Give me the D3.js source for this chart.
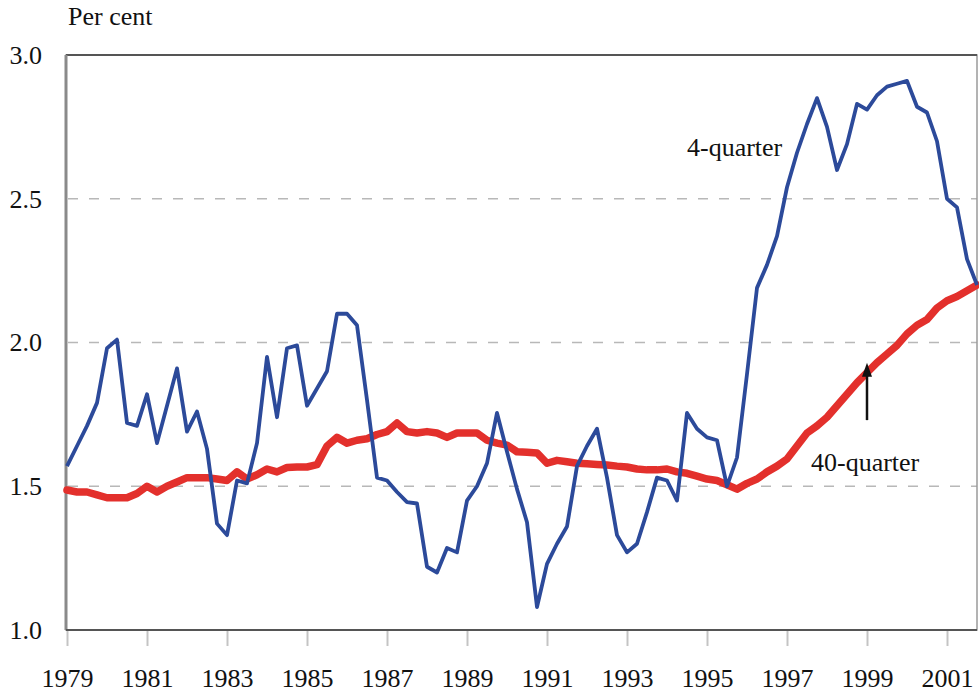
<!DOCTYPE html>
<html>
<head>
<meta charset="utf-8">
<script src="https://cdn.jsdelivr.net/npm/d3@7"></script>
</head>
<body style="margin:0">
<svg id="chart" width="979" height="696"></svg>
<script>
// Quarterly series, 1979 Q1 to 2001 Q4
const startYear = 1979;
const fourQuarter = [
  1.57, 1.64, 1.71, 1.79,
  1.98, 2.01, 1.72, 1.71,
  1.82, 1.65, 1.78, 1.91,
  1.69, 1.76, 1.63, 1.37,
  1.33, 1.52, 1.51, 1.65,
  1.95, 1.74, 1.98, 1.99,
  1.78, 1.84, 1.90, 2.10,
  2.10, 2.06, 1.80, 1.53,
  1.52, 1.48, 1.445, 1.44,
  1.22, 1.20, 1.285, 1.27,
  1.45, 1.50, 1.58, 1.755,
  1.62, 1.49, 1.375, 1.08,
  1.23, 1.30, 1.36, 1.57,
  1.64, 1.70, 1.53, 1.33,
  1.27, 1.30, 1.41, 1.53,
  1.52, 1.45, 1.755, 1.70,
  1.67, 1.66, 1.50, 1.60,
  1.89, 2.19, 2.27, 2.37,
  2.54, 2.66, 2.76, 2.85,
  2.75, 2.60, 2.69, 2.83,
  2.81, 2.86, 2.89, 2.90,
  2.91, 2.82, 2.80, 2.70,
  2.50, 2.47, 2.29, 2.20
];
const fortyQuarter = [
  1.487, 1.48, 1.48, 1.47,
  1.46, 1.46, 1.46, 1.475,
  1.50, 1.48, 1.50, 1.515,
  1.53, 1.53, 1.53, 1.525,
  1.52, 1.55, 1.525, 1.54,
  1.56, 1.55, 1.565, 1.567,
  1.567, 1.575, 1.64, 1.67,
  1.65, 1.66, 1.665, 1.68,
  1.69, 1.72, 1.69, 1.685,
  1.69, 1.685, 1.67, 1.685,
  1.685, 1.685, 1.66, 1.65,
  1.643, 1.62, 1.618, 1.616,
  1.58, 1.59, 1.585, 1.58,
  1.578, 1.576, 1.574, 1.57,
  1.567, 1.56, 1.557, 1.557,
  1.56, 1.55, 1.545, 1.535,
  1.525, 1.52, 1.505, 1.49,
  1.51, 1.525, 1.55, 1.57,
  1.595, 1.64, 1.685, 1.71,
  1.74, 1.78, 1.82, 1.86,
  1.895, 1.93, 1.96, 1.99,
  2.03, 2.06, 2.08, 2.12,
  2.145, 2.16, 2.18, 2.20
];
const xTickYears = [1979, 1981, 1983, 1985, 1987, 1989, 1991, 1993, 1995, 1997, 1999, 2001];
const yTicks = [1.0, 1.5, 2.0, 2.5, 3.0];
const gridValues = [1.5, 2.0, 2.5];
const yUnit = "Per cent";
const label4 = "4-quarter";
const label40 = "40-quarter";
const arrowFromTo = [1.93, 1.73]; // arrow pointing at the 40-quarter line, at 1999
const arrowYear = 1999;

const FONT = "'Liberation Serif'";
const FS = 26;
const svg = d3.select("#chart");
const mLeft = 66, mRight = 977, mTop = 55, mBottom = 630;

const x = d3.scaleLinear().domain([1979, 2001.75]).range([67, 977]);
const y = d3.scaleLinear().domain([1.0, 3.0]).range([mBottom, mTop]);

const toPoints = arr => arr.map((v, i) => ({ t: startYear + i / 4, v }));

// gridlines
svg.append("g").selectAll("line").data(gridValues).join("line")
  .attr("x1", mLeft + 2).attr("x2", mRight)
  .attr("y1", d => y(d)).attr("y2", d => y(d))
  .attr("stroke", "#b8b8b8").attr("stroke-width", 1.6)
  .attr("stroke-dasharray", "10,11");

// frame
svg.append("rect")
  .attr("x", mLeft).attr("y", mTop).attr("width", mRight - mLeft).attr("height", mBottom - mTop)
  .attr("fill", "none").attr("stroke", "#9a9a9a").attr("stroke-width", 1.5);
svg.append("line").attr("x1", mLeft).attr("x2", mRight).attr("y1", mTop).attr("y2", mTop)
  .attr("stroke", "#555").attr("stroke-width", 2.2);
svg.append("line").attr("x1", mLeft).attr("x2", mLeft).attr("y1", mTop).attr("y2", mBottom)
  .attr("stroke", "#8a8a8a").attr("stroke-width", 3);
svg.append("line").attr("x1", mLeft).attr("x2", mRight).attr("y1", mBottom).attr("y2", mBottom)
  .attr("stroke", "#555").attr("stroke-width", 2.2);

// x axis ticks & labels
const xAxis = d3.axisBottom(x).tickValues(xTickYears).tickFormat(d3.format("d"))
  .tickSize(15).tickPadding(23);
const gx = svg.append("g").attr("transform", `translate(0,${mBottom + 1})`).call(xAxis)
  .attr("font-family", FONT).attr("font-size", FS);
gx.select(".domain").remove();
gx.selectAll(".tick line").attr("stroke", "#c4c4c4").attr("stroke-width", 2);
gx.selectAll(".tick text").attr("fill", "#111").attr("font-family", FONT).attr("font-size", FS);

// y axis labels
const yAxis = d3.axisLeft(y).tickValues(yTicks).tickFormat(d3.format(".1f"))
  .tickSize(0).tickPadding(24);
const gy = svg.append("g").attr("transform", `translate(${mLeft},0)`).call(yAxis)
  .attr("font-family", FONT).attr("font-size", FS);
gy.select(".domain").remove();
gy.selectAll(".tick text").attr("fill", "#111").attr("font-family", FONT).attr("font-size", FS);

svg.append("text").attr("x", 68).attr("y", 25)
  .attr("font-size", FS).attr("font-family", FONT).attr("fill", "#111").text(yUnit);

// lines
const line = d3.line().x(d => x(d.t)).y(d => y(d.v));
svg.append("path").datum(toPoints(fortyQuarter))
  .attr("d", line).attr("fill", "none")
  .attr("stroke", "#e3302c").attr("stroke-width", 7.5)
  .attr("stroke-linejoin", "round").attr("stroke-linecap", "round");
svg.append("path").datum(toPoints(fourQuarter))
  .attr("d", line).attr("fill", "none")
  .attr("stroke", "#2c4a9a").attr("stroke-width", 3.8)
  .attr("stroke-linejoin", "round");

// annotations
svg.append("text").attr("x", 687).attr("y", 156)
  .attr("font-size", FS).attr("font-family", FONT).attr("fill", "#111").text(label4);
svg.append("text").attr("x", 811).attr("y", 471)
  .attr("font-size", FS).attr("font-family", FONT).attr("fill", "#111").text(label40);

const ax = x(arrowYear);
svg.append("line")
  .attr("x1", ax).attr("x2", ax)
  .attr("y1", y(arrowFromTo[1])).attr("y2", y(arrowFromTo[0]) + 12)
  .attr("stroke", "#111").attr("stroke-width", 2.5);
svg.append("path")
  .attr("d", `M${ax},${y(arrowFromTo[0])} L${ax - 5},${y(arrowFromTo[0]) + 14} L${ax + 5},${y(arrowFromTo[0]) + 14} Z`)
  .attr("fill", "#111");
</script>
</body>
</html>
